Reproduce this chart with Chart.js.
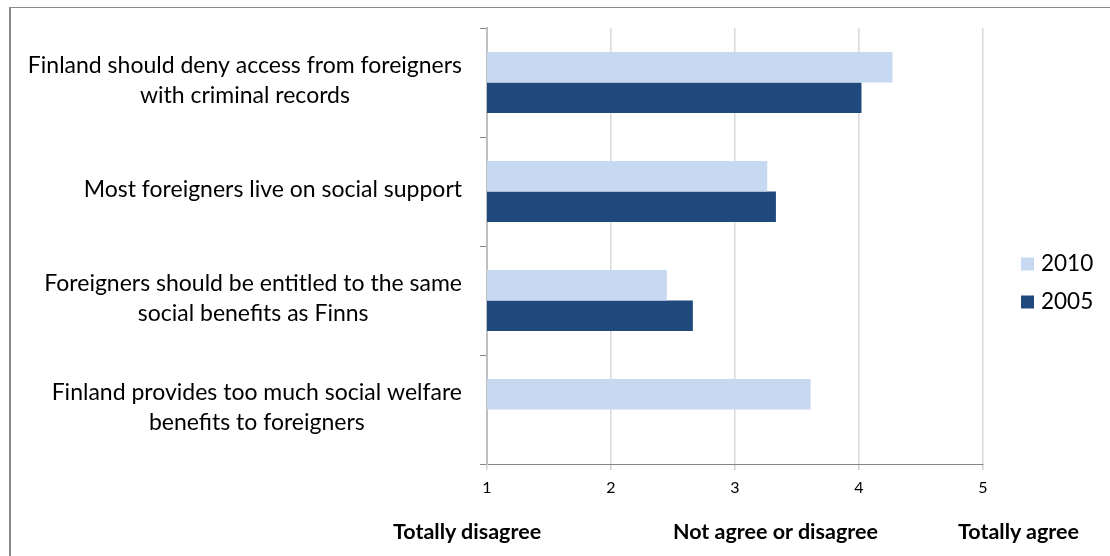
<!DOCTYPE html>
<html>
<head>
<meta charset="utf-8">
<script src="https://cdn.jsdelivr.net/npm/chart.js@4/dist/chart.umd.min.js"></script>
<style>
  body { margin: 0; background: #fff; font-family: Lato, sans-serif; }
  #wrap { position: relative; width: 1110px; height: 556px; overflow: hidden; }
  #frame { position: absolute; left: 9px; top: 7px; width: 1200px; height: 700px;
           border-top: 1.5px solid #8a8a8a; border-left: 2px solid #8a8a8a; }
  .cap { position: absolute; top: 517px; font-weight: bold; font-size: 21.5px; color: #000; white-space: nowrap; line-height: 28px; }
</style>
</head>
<body>
<div id="wrap">
  <div id="frame"></div>
  <canvas id="bar-chart" width="1110" height="556" style="position:absolute;left:0;top:0;"></canvas>
  <div class="cap" style="left:393px;">Totally disagree</div>
  <div class="cap" style="left:673px;">Not agree or disagree</div>
  <div class="cap" style="left:958px;">Totally agree</div>
</div>
<script>
var categories = [
    ['Finland should deny access from foreigners', 'with criminal records'],
    ['Most foreigners live on social support'],
    ['Foreigners should be entitled to the same', 'social benefits as Finns'],
    ['Finland provides too much social welfare', 'benefits to foreigners']
];
var years = ['2010', '2005'];
var values2010 = [4.27, 3.26, 2.45, 3.61];
var values2005 = [4.02, 3.33, 2.66, null];
var tickValues = [1, 2, 3, 4, 5];

Chart.defaults.font.family = 'Lato, sans-serif';
Chart.defaults.color = '#000';

// category labels: block right aligned, lines centered inside the block
var catLabels = {
    id: 'catLabels',
    afterDraw: function(chart) {
        var ctx = chart.ctx;
        var y = chart.scales.y;
        var right = chart.chartArea.left - 25;
        ctx.save();
        ctx.font = '23px Lato, sans-serif';
        ctx.fillStyle = '#000';
        ctx.textAlign = 'center';
        ctx.textBaseline = 'middle';
        categories.forEach(function(lines, i) {
            var maxW = 0;
            lines.forEach(function(l) { maxW = Math.max(maxW, ctx.measureText(l).width); });
            var cx = right - maxW / 2;
            var cy = y.getPixelForValue(i) - 2;
            var lh = 30;
            lines.forEach(function(l, k) {
                ctx.fillText(l, cx, cy + (k - (lines.length - 1) / 2) * lh);
            });
        });
        ctx.restore();
    }
};

// legend drawn at the right side, from the datasets
var sideLegend = {
    id: 'sideLegend',
    afterDraw: function(chart) {
        var ctx = chart.ctx;
        var x0 = chart.chartArea.right + 38;
        var y0 = 264;
        ctx.save();
        ctx.font = '22.5px Lato, sans-serif';
        ctx.textBaseline = 'middle';
        ctx.textAlign = 'left';
        chart.data.datasets.forEach(function(ds, i) {
            var cy = y0 + i * 38;
            ctx.fillStyle = ds.backgroundColor;
            ctx.fillRect(x0, cy - 6.5, 13, 13);
            ctx.fillStyle = '#000';
            ctx.fillText(ds.label, x0 + 20, cy);
        });
        ctx.restore();
    }
};

new Chart(document.getElementById('bar-chart'), {
    type: 'bar',
    data: {
        labels: categories.map(function(c) { return c.join(' '); }),
        datasets: [{
            label: years[0],
            data: values2010,
            backgroundColor: '#c6d9f1'
        }, {
            label: years[1],
            data: values2005,
            backgroundColor: '#1f497d'
        }]
    },
    options: {
        indexAxis: 'y',
        responsive: false,
        animation: false,
        barPercentage: 1,
        categoryPercentage: 0.56,
        layout: { padding: { left: 480, top: 28, right: 127, bottom: 52 } },
        plugins: {
            legend: { display: false },
            tooltip: { enabled: false }
        },
        scales: {
            x: {
                min: tickValues[0],
                max: tickValues[tickValues.length - 1],
                afterBuildTicks: function(s) { s.ticks = tickValues.map(function(v) { return { value: v }; }); },
                afterFit: function(s) { s.height = 40; },
                grid: { color: '#d9d9d9', lineWidth: 1.5, tickColor: '#d0d0d0', tickLength: 6 },
                border: { color: '#868686', width: 1 },
                ticks: { font: { size: 16 }, color: '#000', padding: 8 }
            },
            y: {
                afterFit: function(s) { s.width = 7; },
                grid: { drawOnChartArea: false, tickLength: 7, color: '#868686', offset: true },
                border: { color: '#bfbfbf', width: 2 },
                ticks: { display: false }
            }
        }
    },
    plugins: [catLabels, sideLegend]
});
</script>
</body>
</html>
